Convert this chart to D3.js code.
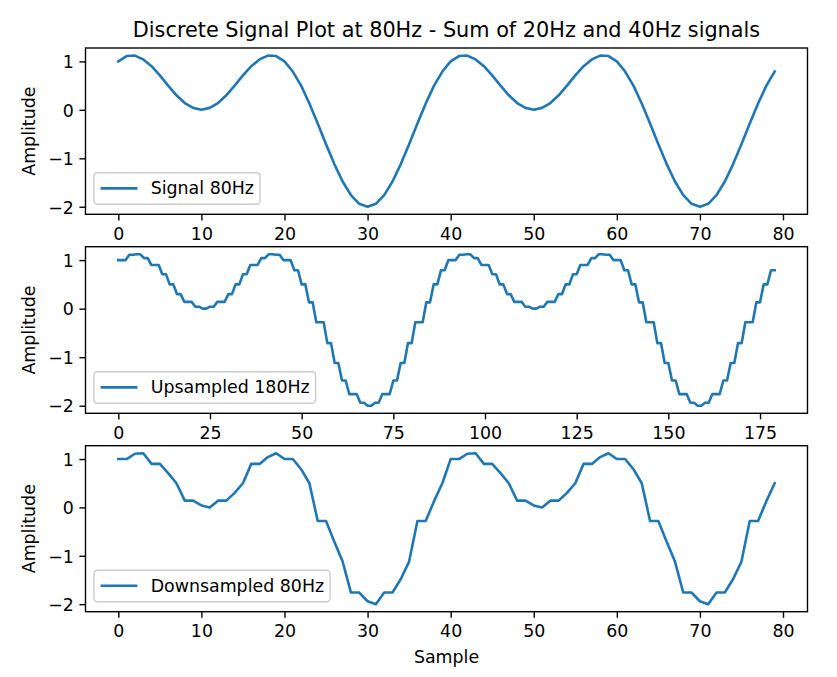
<!DOCTYPE html>
<html><head><meta charset="utf-8">
<script src="https://cdn.jsdelivr.net/npm/d3@7"></script>
<style>
body{margin:0;background:#fff}
svg{display:block}
text{font-family:"DejaVu Sans",sans-serif;fill:#000}
</style>
</head><body>
<svg id="c" width="837" height="677"></svg>
<script>
const chartTitle = "Discrete Signal Plot at 80Hz - Sum of 20Hz and 40Hz signals";
const xLabel = "Sample";
const yLabel = "Amplitude";
const seriesLabels = ["Signal 80Hz", "Upsampled 180Hz", "Downsampled 80Hz"];

const signal80 = [
 1.00,1.11,1.12,1.04,0.90,0.71,0.50,0.30,0.14,0.04,
 0.00,0.04,0.14,0.30,0.50,0.71,0.90,1.04,1.12,1.11,
 1.00,0.79,0.50,0.13,-0.28,-0.71,-1.12,-1.48,-1.76,-1.94,
 -2.00,-1.94,-1.76,-1.48,-1.12,-0.71,-0.28,0.13,0.50,0.79,
 1.00,1.11,1.12,1.04,0.90,0.71,0.50,0.30,0.14,0.04,
 0.00,0.04,0.14,0.30,0.50,0.71,0.90,1.04,1.12,1.11,
 1.00,0.79,0.50,0.13,-0.28,-0.71,-1.12,-1.48,-1.76,-1.94,
 -2.00,-1.94,-1.76,-1.48,-1.12,-0.71,-0.28,0.13,0.50,0.79
];

const upsampled180 = [
 1.00,1.00,1.00,1.11,1.11,1.12,1.12,1.04,1.04,
 0.90,0.90,0.90,0.71,0.71,0.50,0.50,0.30,0.30,
 0.14,0.14,0.14,0.04,0.04,0.00,0.00,0.04,0.04,
 0.14,0.14,0.14,0.30,0.30,0.50,0.50,0.71,0.71,
 0.90,0.90,0.90,1.04,1.04,1.12,1.12,1.11,1.11,
 1.00,1.00,1.00,0.79,0.79,0.50,0.50,0.13,0.13,
 -0.28,-0.28,-0.28,-0.71,-0.71,-1.12,-1.12,-1.48,-1.48,
 -1.76,-1.76,-1.76,-1.94,-1.94,-2.00,-2.00,-1.94,-1.94,
 -1.76,-1.76,-1.76,-1.48,-1.48,-1.12,-1.12,-0.71,-0.71,
 -0.28,-0.28,-0.28,0.13,0.13,0.50,0.50,0.79,0.79,
 1.00,1.00,1.00,1.11,1.11,1.12,1.12,1.04,1.04,
 0.90,0.90,0.90,0.71,0.71,0.50,0.50,0.30,0.30,
 0.14,0.14,0.14,0.04,0.04,0.00,0.00,0.04,0.04,
 0.14,0.14,0.14,0.30,0.30,0.50,0.50,0.71,0.71,
 0.90,0.90,0.90,1.04,1.04,1.12,1.12,1.11,1.11,
 1.00,1.00,1.00,0.79,0.79,0.50,0.50,0.13,0.13,
 -0.28,-0.28,-0.28,-0.71,-0.71,-1.12,-1.12,-1.48,-1.48,
 -1.76,-1.76,-1.76,-1.94,-1.94,-2.00,-2.00,-1.94,-1.94,
 -1.76,-1.76,-1.76,-1.48,-1.48,-1.12,-1.12,-0.71,-0.71,
 -0.28,-0.28,-0.28,0.13,0.13,0.50,0.50,0.79,0.79
];

const downsampled80 = [
 1.00,1.00,1.11,1.12, 0.90,0.90,0.71,0.50,
 0.14,0.14,0.04,0.00, 0.14,0.14,0.30,0.50,
 0.90,0.90,1.04,1.12, 1.00,1.00,0.79,0.50,
 -0.28,-0.28,-0.71,-1.12, -1.76,-1.76,-1.94,-2.00,
 -1.76,-1.76,-1.48,-1.12, -0.28,-0.28,0.13,0.50,
 1.00,1.00,1.11,1.12, 0.90,0.90,0.71,0.50,
 0.14,0.14,0.04,0.00, 0.14,0.14,0.30,0.50,
 0.90,0.90,1.04,1.12, 1.00,1.00,0.79,0.50,
 -0.28,-0.28,-0.71,-1.12, -1.76,-1.76,-1.94,-2.00,
 -1.76,-1.76,-1.48,-1.12, -0.28,-0.28,0.13,0.50
];

const xTicksTop = [0,10,20,30,40,50,60,70,80];
const xTicksMid = [0,25,50,75,100,125,150,175];
const xTicksBot = [0,10,20,30,40,50,60,70,80];
const yTicks = [-2,-1,0,1];

const series = [signal80, upsampled180, downsampled80];
const xTickSets = [xTicksTop, xTicksMid, xTicksBot];

const svg = d3.select("#c");
const W = 837, H = 677;
svg.append("rect").attr("width", W).attr("height", H).attr("fill", "#fff");

const left = 85.5, right = 807.5;
const panels = [{top: 48, bottom: 214.3}, {top: 246.7, bottom: 413.3}, {top: 445.7, bottom: 611.7}];
const FS = 17.4;
const color = "#1f77b4";
const tickLen = 6.08;
const LW = 2.6;
const FW = 1.39;

function paddedExtent(ext) {
  const m = (ext[1] - ext[0]) * 0.05;
  return [ext[0] - m, ext[1] + m];
}

series.forEach((data, i) => {
  const p = panels[i];
  const x = d3.scaleLinear().domain(paddedExtent([0, data.length - 1])).range([left, right]);
  const y = d3.scaleLinear().domain(paddedExtent(d3.extent(data))).range([p.bottom, p.top]);
  const g = svg.append("g");

  const line = d3.line().x((d, k) => x(k)).y(d => y(d));
  g.append("path").datum(data)
    .attr("d", line)
    .attr("fill", "none")
    .attr("stroke", color)
    .attr("stroke-width", LW)
    .attr("stroke-linejoin", "round")
    .attr("stroke-linecap", "square");

  const xa = g.append("g").attr("transform", `translate(0,${p.bottom})`)
    .call(d3.axisBottom(x).tickValues(xTickSets[i]).tickFormat(d3.format("d"))
      .tickSize(tickLen).tickSizeOuter(0).tickPadding(6.8));
  xa.select(".domain").remove();
  xa.selectAll("line").attr("stroke", "#000").attr("stroke-width", FW);
  xa.selectAll("text").attr("font-size", FS).attr("font-family", "DejaVu Sans").attr("fill", "#000");

  const ya = g.append("g").attr("transform", `translate(${left},0)`)
    .call(d3.axisLeft(y).tickValues(yTicks).tickFormat(d3.format("d"))
      .tickSize(tickLen).tickSizeOuter(0).tickPadding(5.5));
  ya.select(".domain").remove();
  ya.selectAll("line").attr("stroke", "#000").attr("stroke-width", FW);
  ya.selectAll("text").attr("font-size", FS).attr("font-family", "DejaVu Sans").attr("fill", "#000").attr("dy", "0.36em");

  g.append("rect").attr("x", left).attr("y", p.top)
    .attr("width", right - left).attr("height", p.bottom - p.top)
    .attr("fill", "none").attr("stroke", "#000").attr("stroke-width", FW);

  const yc = (p.top + p.bottom) / 2;
  g.append("text").attr("transform", `translate(35.4,${yc}) rotate(-90)`)
    .attr("text-anchor", "middle").attr("font-size", FS).text(yLabel);

  const lx = left + 8.5, lh = 31.5, ly = p.bottom - 10 - lh;
  const lg = g.append("g");
  const box = lg.append("rect").attr("x", lx).attr("y", ly).attr("height", lh)
    .attr("rx", 3.5).attr("ry", 3.5)
    .attr("fill", "#fff").attr("fill-opacity", 0.8)
    .attr("stroke", "#cccccc").attr("stroke-width", FW);
  lg.append("line").attr("x1", lx + 7.9).attr("x2", lx + 42.1)
    .attr("y1", ly + 15.6).attr("y2", ly + 15.6)
    .attr("stroke", color).attr("stroke-width", LW).attr("stroke-linecap", "square");
  const t = lg.append("text").attr("x", lx + 56.7).attr("y", ly + 21.6)
    .attr("font-size", FS).text(seriesLabels[i]);
  const tw = t.node().getComputedTextLength();
  box.attr("width", 56.7 + tw + 6);
});

svg.append("text").attr("x", (left + right) / 2).attr("y", 36.7)
  .attr("text-anchor", "middle").attr("font-size", 20.8).text(chartTitle);

svg.append("text").attr("x", (left + right) / 2).attr("y", 663.3)
  .attr("text-anchor", "middle").attr("font-size", FS).text(xLabel);
</script>
</body></html>
